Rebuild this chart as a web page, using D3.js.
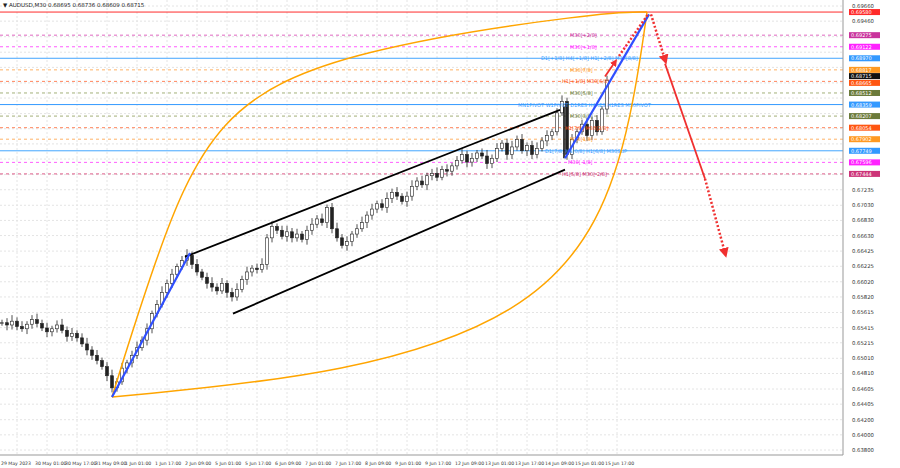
<!DOCTYPE html><html><head><meta charset="utf-8"><script src="https://cdn.jsdelivr.net/npm/d3@7"></script>
<style>body{margin:0;background:#fff}text{font-family:"DejaVu Sans",sans-serif}</style></head><body><svg id="c" width="900" height="468"></svg>
<script>
const closes=[0.6548,0.6545,0.6550,0.6543,0.6540,0.6546,0.6552,0.6547,0.6541,0.6536,0.6540,0.6545,0.6538,0.6530,0.6534,0.6528,0.6520,0.6512,0.6505,0.6498,
0.6490,0.6478,0.6462,0.6470,0.6488,0.6495,0.6505,0.6515,0.6525,0.6540,
0.6560,0.6572,0.6588,0.6600,0.6612,0.6622,0.6630,0.6637,0.6625,0.6615,
0.6608,0.6600,0.6595,0.6590,0.6600,0.6588,0.6582,0.6592,0.6605,0.6615,
0.6620,0.6618,0.6625,0.6660,0.6675,0.6670,0.6662,0.6668,0.6660,0.6665,
0.6658,0.6670,0.6678,0.6685,0.6680,0.6700,0.6672,0.6660,0.6650,0.6655,
0.6665,0.6672,0.6680,0.6690,0.6698,0.6705,0.6700,0.6712,0.6720,0.6715,
0.6708,0.6715,0.6728,0.6735,0.6730,0.6742,0.6745,0.6740,0.6750,0.6748,
0.6755,0.6762,0.6770,0.6760,0.6765,0.6772,0.6768,0.6758,0.6765,0.6778,
0.6785,0.6770,0.6780,0.6790,0.6775,0.6782,0.6770,0.6778,0.6788,0.6795,
0.6800,0.6825,0.6840,0.6770,0.6790,0.6800,0.6810,0.6795,0.6815,0.6800,0.6830,0.6868];
const timeLabels=["29 May 2023","30 May 01:00","30 May 17:00","31 May 09:00","1 Jun 01:00","1 Jun 17:00","2 Jun 09:00","5 Jun 01:00","5 Jun 17:00","6 Jun 09:00","7 Jun 01:00","7 Jun 17:00","8 Jun 09:00","9 Jun 01:00","9 Jun 17:00","12 Jun 09:00","13 Jun 01:00","13 Jun 17:00","14 Jun 09:00","15 Jun 01:00","15 Jun 17:00"];
const priceTicks=[0.69660,0.69460,0.69255,0.69050,0.68850,0.68645,0.68445,0.68240,0.68040,0.67840,0.67640,0.67435,0.67235,0.67030,0.66830,0.66630,0.66425,0.66225,0.66020,0.65820,0.65615,0.65415,0.65215,0.65010,0.64810,0.64605,0.64405,0.64200,0.64000,0.63800];
const levels=[
{p:0.69580,c:"#ff2a2a",d:null,t:"",bg:"#ff2a2a"},
{p:0.69275,c:"#d63fb0",d:"3,3",t:"M30[+2/8]",lx:570,bg:"#c9339c"},
{p:0.69122,c:"#ff33ff",d:"3,3",t:"M30[+1/8]",lx:570,bg:"#ff22ff"},
{p:0.68970,c:"#44a6ff",d:null,t:"D1[+1/8] H4[+1/8] H1[+2/8] M30[8/8]",lx:541,bg:"#3399ff"},
{p:0.68817,c:"#ffa040",d:"3,3",t:"M30[7/8]",lx:570,bg:"#ff9922"},
{p:0.68715,c:null,d:null,t:"",bg:"#111",off:-1.5},
{p:0.68665,c:"#ff6633",d:"3,3",t:"H1[+1/8] M30[6/8]",lx:562,bg:"#ff5511",off:1.5},
{p:0.68512,c:"#8a9a55",d:"3,3",t:"M30[5/8]",lx:570,bg:"#6b7a3a"},
{p:0.68359,c:"#3399ff",d:null,t:"MN1PIVOT W1PIVOT D1RES H4RES H1RES M30PIVOT",lx:518,bg:"#3399ff"},
{p:0.68207,c:"#8a9a55",d:"3,3",t:"M30[3/8]",lx:570,bg:"#6b7a3a"},
{p:0.68054,c:"#ff6633",d:"3,3",t:"H1[7/8] M30[2/8]",lx:565,bg:"#ff5511"},
{p:0.67902,c:"#ffa040",d:"3,3",t:"M30[1/8]",lx:570,bg:"#ff9922"},
{p:0.67749,c:"#44a6ff",d:null,t:"D1[7/8] H4[0/8] H1[6/8] M30SUP",lx:545,bg:"#3399ff"},
{p:0.67596,c:"#ff33ff",d:"3,3",t:"M30[-1/8]",lx:568,bg:"#ff22ff"},
{p:0.67444,c:"#d6336c",d:"3,3",t:"H1[5/8] M30[-2/8]",lx:562,bg:"#cc3377"}];
const svg=d3.select("#c");
const W=843,H=455;
const y=d3.scaleLinear().domain([0.6380,0.6966]).range([450,6]);
const x=d3.scaleLinear().domain([0,1]).range([2,7]);
const bx=i=>x(0)+i*(x(1)-x(0));
const g=svg.append("g");
priceTicks.forEach(p=>g.append("line").attr("x1",0).attr("x2",W).attr("y1",y(p)).attr("y2",y(p)).attr("stroke","#e4e4e4").attr("stroke-dasharray","2,2"));
timeLabels.forEach((t,k)=>{const X=bx(k*6+3);g.append("line").attr("x1",X).attr("x2",X).attr("y1",0).attr("y2",H).attr("stroke","#e4e4e4").attr("stroke-dasharray","2,2");
svg.append("text").attr("x",k==0?1:X-12).attr("y",465).attr("font-size",4.6).attr("fill","#333").text(t);});
levels.forEach(l=>{if(l.c)svg.append("line").attr("x1",0).attr("x2",W).attr("y1",y(l.p)).attr("y2",y(l.p)).attr("stroke",l.c).attr("stroke-width",l.d?0.8:1).attr("stroke-dasharray",l.d);});
const cg=svg.append("g");
closes.forEach((c,i)=>{const o=i?closes[i-1]:c;const hi=Math.max(o,c)+0.0004+((i*7)%5)*0.0001,lo=Math.min(o,c)-0.0004-((i*3)%4)*0.0001;const X=bx(i);
cg.append("line").attr("x1",X).attr("x2",X).attr("y1",y(hi)).attr("y2",y(lo)).attr("stroke","#222").attr("stroke-width",0.8);
cg.append("rect").attr("x",X-1.5).attr("width",3).attr("y",y(Math.max(o,c))).attr("height",Math.max(0.8,Math.abs(y(o)-y(c)))).attr("fill",c>=o?"#fff":"#222").attr("stroke","#222").attr("stroke-width",0.6);});
levels.forEach(l=>{if(l.t)svg.append("text").attr("x",l.lx).attr("y",y(l.p)+2).attr("font-size",5).attr("fill",l.bg).text(l.t);});
const P=(i,p)=>[bx(i),y(p)];
const line=d3.line().curve(d3.curveBasis);
const A=P(22,0.6450),B=P(129,0.6958);
svg.append("path").attr("d",line([A,P(30,0.6620),P(42,0.6830),P(70,0.6910),P(120,0.6958),B])).attr("fill","none").attr("stroke","#ffa500").attr("stroke-width",1.5);
svg.append("path").attr("d",line([A,P(70,0.6480),P(105,0.6560),P(120,0.6680),P(126,0.6820),B])).attr("fill","none").attr("stroke","#ffa500").attr("stroke-width",1.5);
const seg=(a,b,c,w,d)=>svg.append("line").attr("x1",a[0]).attr("y1",a[1]).attr("x2",b[0]).attr("y2",b[1]).attr("stroke",c).attr("stroke-width",w).attr("stroke-dasharray",d);
seg(P(36.6,0.6635),P(111.6,0.6829),"#000",1.8);
seg(P(46.2,0.6560),P(112.6,0.6750),"#000",1.8);
seg(P(112.4,0.6833),P(112.4,0.6765),"#000",1.5);
seg(A,P(37.6,0.6640),"#2f4fff",2.2);
seg(P(112.6,0.6765),P(129.4,0.6955),"#2f4fff",2.2);
const defs=svg.append("defs");
defs.append("marker").attr("id","ar").attr("viewBox","0 0 10 10").attr("refX",5).attr("refY",5).attr("markerWidth",4).attr("markerHeight",4).attr("orient","auto").append("path").attr("d","M0,0L10,5L0,10z").attr("fill","#f03030");
seg(P(120.6,0.6873),P(122.6,0.6892),"#f03030",1.8).attr("marker-end","url(#ar)");
seg(P(123.4,0.6900),P(129.2,0.6955),"#f03030",2.5,"2,2");
seg(P(129.8,0.6955),P(132.6,0.6895),"#f03030",2.5,"2,2").attr("marker-end","url(#ar)");
seg(P(132.6,0.6890),P(140.6,0.6738),"#f03030",1.8);
seg(P(140.6,0.6738),P(144.6,0.6640),"#f03030",2.5,"2,2").attr("marker-end","url(#ar)");
svg.append("line").attr("x1",W).attr("x2",W).attr("y1",0).attr("y2",H).attr("stroke","#999");
svg.append("line").attr("x1",0).attr("x2",W).attr("y1",H).attr("y2",H).attr("stroke","#999");
priceTicks.forEach(p=>{if(levels.some(l=>Math.abs(y(l.p)-y(p))<6))return;svg.append("text").attr("x",W+9).attr("y",y(p)+2).attr("font-size",5.3).attr("fill","#333").text(p.toFixed(5));});
levels.forEach(l=>{const yy=y(l.p)+(l.off||0);svg.append("rect").attr("x",W+6).attr("y",yy-3).attr("width",31).attr("height",6).attr("fill",l.bg);
svg.append("text").attr("x",W+8).attr("y",yy+2).attr("font-size",5).attr("fill","#fff").text(l.p.toFixed(5));});
svg.append("text").attr("x",3).attr("y",7).attr("font-size",5.5).attr("fill","#222").text("▼ AUDUSD,M30  0.68695 0.68736 0.68609 0.68715");
</script></body></html>
